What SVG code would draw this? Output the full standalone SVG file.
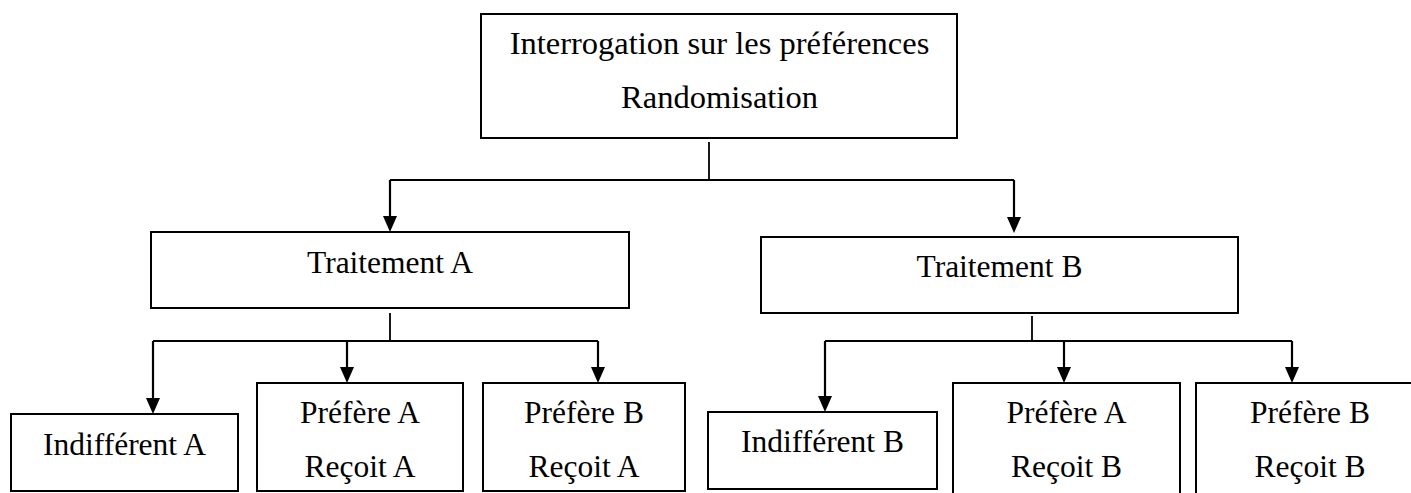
<svg xmlns="http://www.w3.org/2000/svg" width="1411" height="493" viewBox="0 0 1411 493">
  <style>
    .box { fill: #ffffff; stroke: #000000; stroke-width: 2; }
    .lbl { font-family: "Liberation Serif", "Times New Roman", serif; font-size: 31.5px; fill: #000000; text-anchor: middle; }
    .lbl-top { font-size: 32.5px; }
    .wire { fill: none; stroke: #000000; stroke-width: 1.8; }
    .arrow { fill: none; stroke: #000000; stroke-width: 2.2; marker-end: url(#head); }
  </style>
  <defs>
    <marker id="head" markerUnits="userSpaceOnUse" markerWidth="16" markerHeight="14" viewBox="0 0 16 14" refX="10" refY="7" orient="auto">
      <path d="M0,0 L16,7 L0,14 Z" fill="#000000"/>
    </marker>
  </defs>

  <rect width="1411" height="493" fill="#ffffff"/>

  <!-- connectors -->
  <g id="connectors">
    <!-- root to treatments -->
    <path class="wire" d="M709,142 V180"/>
    <path class="wire" d="M709,180 H390"/>
    <path class="wire" d="M709,180 H1014"/>
    <path class="arrow" d="M390,180 V226"/>
    <path class="arrow" d="M1014,180 V227"/>
    <!-- Traitement A to its groups -->
    <path class="wire" d="M390,313 V341"/>
    <path class="wire" d="M153,341 H598"/>
    <path class="arrow" d="M153,341 V408"/>
    <path class="arrow" d="M347,341 V377"/>
    <path class="arrow" d="M598,341 V377"/>
    <!-- Traitement B to its groups -->
    <path class="wire" d="M1032,316 V341"/>
    <path class="wire" d="M825,341 H1292"/>
    <path class="arrow" d="M825,341 V406"/>
    <path class="arrow" d="M1064,341 V377"/>
    <path class="arrow" d="M1292,341 V377"/>
  </g>

  <!-- root -->
  <g id="root">
    <rect class="box" x="481" y="14" width="476" height="124"/>
    <text class="lbl lbl-top" x="719.5" y="54">Interrogation sur les préférences</text>
    <text class="lbl lbl-top" x="719.5" y="108">Randomisation</text>
  </g>

  <!-- treatments -->
  <g id="traitement-a">
    <rect class="box" x="151" y="232" width="478" height="76"/>
    <text class="lbl" x="390" y="273">Traitement A</text>
  </g>
  <g id="traitement-b">
    <rect class="box" x="761" y="237" width="477" height="76"/>
    <text class="lbl" x="999.5" y="277">Traitement B</text>
  </g>

  <!-- arm A groups -->
  <g id="indifferent-a">
    <rect class="box" x="11" y="414" width="227" height="77"/>
    <text class="lbl" x="124.5" y="455">Indifférent A</text>
  </g>
  <g id="prefere-a-recoit-a">
    <rect class="box" x="257" y="383" width="206" height="108"/>
    <text class="lbl" x="360" y="423">Préfère A</text>
    <text class="lbl" x="360" y="477">Reçoit A</text>
  </g>
  <g id="prefere-b-recoit-a">
    <rect class="box" x="483" y="383" width="202" height="108"/>
    <text class="lbl" x="584" y="423">Préfère B</text>
    <text class="lbl" x="584" y="477">Reçoit A</text>
  </g>

  <!-- arm B groups -->
  <g id="indifferent-b">
    <rect class="box" x="708" y="412" width="229" height="77"/>
    <text class="lbl" x="822.5" y="452">Indifférent B</text>
  </g>
  <g id="prefere-a-recoit-b">
    <rect class="box" x="953" y="383" width="227" height="120"/>
    <text class="lbl" x="1066.5" y="423">Préfère A</text>
    <text class="lbl" x="1066.5" y="477">Reçoit B</text>
  </g>
  <g id="prefere-b-recoit-b">
    <rect class="box" x="1196" y="383" width="228" height="120"/>
    <text class="lbl" x="1310" y="423">Préfère B</text>
    <text class="lbl" x="1310" y="477">Reçoit B</text>
  </g>
</svg>
